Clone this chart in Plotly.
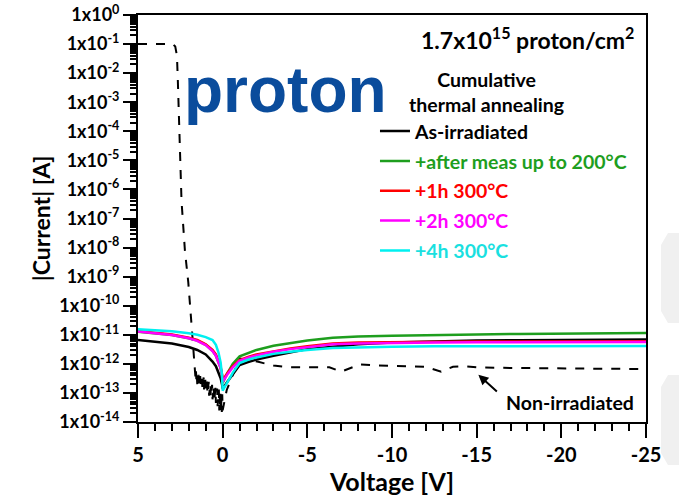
import plotly.graph_objects as go

# Bias sweep shared by the irradiated samples (V)
voltage = [5, 4, 3, 2, 1.5, 1, 0.6, 0.4, 0.25, 0.12, 0.04, 0,
           -0.3, -0.6, -1, -1.5, -2, -3, -4, -5, -6.5, -8, -10,
           -12.5, -15, -17.5, -20, -22.5, -25]

# |I| (A) after each cumulative annealing step
i_as_irradiated = [6.6e-12, 5.9e-12, 5.0e-12, 3.8e-12, 3.0e-12, 2.1e-12, 1.2e-12, 8.3e-13, 5.2e-13, 3.2e-13, 2.0e-13, 1.4e-13,
                   2.5e-13, 4.4e-13, 9.1e-13, 1.15e-12, 1.4e-12, 1.9e-12, 2.5e-12, 3.2e-12, 3.9e-12, 4.7e-12, 5.4e-12,
                   5.9e-12, 6.3e-12, 6.5e-12, 6.6e-12, 6.8e-12, 6.9e-12]
i_after_200c = [1.26e-11, 1.12e-11, 9.8e-12, 7.6e-12, 6.3e-12, 4.5e-12, 2.8e-12, 1.9e-12, 1.2e-12, 7.1e-13, 4.0e-13, 2.2e-13,
                5.0e-13, 1.0e-12, 1.8e-12, 2.4e-12, 3.0e-12, 4.2e-12, 5.2e-12, 6.3e-12, 7.9e-12, 8.7e-12, 9.3e-12,
                1.0e-11, 1.02e-11, 1.07e-11, 1.10e-11, 1.12e-11, 1.15e-11]
i_1h_300c = [1.35e-11, 1.2e-11, 1.02e-11, 7.9e-12, 6.6e-12, 4.7e-12, 3.0e-12, 2.1e-12, 1.3e-12, 7.9e-13, 4.5e-13, 2.75e-13,
             5.0e-13, 8.3e-13, 1.35e-12, 1.74e-12, 2.1e-12, 2.75e-12, 3.4e-12, 4.0e-12, 5.0e-12, 5.4e-12, 5.6e-12,
             5.75e-12, 5.9e-12, 5.9e-12, 6.0e-12, 6.0e-12, 6.0e-12]
i_2h_300c = [1.29e-11, 1.15e-11, 9.8e-12, 7.6e-12, 6.2e-12, 4.4e-12, 2.75e-12, 1.9e-12, 1.2e-12, 7.1e-13, 4.0e-13, 2.4e-13,
             4.5e-13, 7.6e-13, 1.26e-12, 1.62e-12, 1.95e-12, 2.6e-12, 3.2e-12, 3.7e-12, 4.7e-12, 5.0e-12, 5.25e-12,
             5.4e-12, 5.5e-12, 5.5e-12, 5.6e-12, 5.6e-12, 5.6e-12]
i_4h_300c = [1.55e-11, 1.45e-11, 1.32e-11, 1.12e-11, 1.0e-11, 8.3e-12, 6.6e-12, 4.5e-12, 2.5e-12, 1.12e-12, 4.0e-13, 1.2e-13,
             2.5e-13, 5.0e-13, 1.07e-12, 1.38e-12, 1.66e-12, 2.2e-12, 2.6e-12, 3.0e-12, 3.5e-12, 3.7e-12, 3.9e-12,
             4.0e-12, 4.0e-12, 4.1e-12, 4.1e-12, 4.1e-12, 4.1e-12]

# Reference (non-irradiated) diode sweep: breakdown plateau, collapse, noise floor near 0 V, reverse leakage
voltage_ref = [5, 4, 3.2, 2.93, 2.8, 2.7, 2.65, 2.62, 2.55, 2.43, 2.23, 2.03, 1.82, 1.72, 1.65,
               1.625, 1.6, 1.575, 1.55, 1.525, 1.5, 1.475, 1.45, 1.425, 1.4, 1.375, 1.35, 1.325, 1.3,
               1.275, 1.25, 1.225, 1.2, 1.175, 1.15, 1.125, 1.1, 1.075, 1.05, 1.025, 1.0, 0.975, 0.95,
               0.925, 0.9, 0.875, 0.85, 0.825, 0.8, 0.775, 0.75, 0.725, 0.7, 0.675, 0.65, 0.625, 0.6,
               0.575, 0.55, 0.525, 0.5, 0.475, 0.45, 0.425, 0.4, 0.375, 0.35, 0.325, 0.3, 0.275, 0.25,
               0.225, 0.2, 0.175, 0.15, 0.125, 0.1, 0.075, 0.05, 0.025, 0.0,
               -0.1, -0.24, -1.0, -1.5, -2.1, -3, -4, -5.2, -6.3, -7.0, -7.6, -8.1, -9, -10, -11, -12,
               -12.9, -13.6, -14.1, -15, -17, -19, -21, -23, -25]
i_ref = [0.1, 0.1, 0.1, 0.1, 0.083, 0.04, 6.3e-3, 1.26e-3, 3.2e-5, 4.0e-7, 7.9e-9, 6.3e-10, 1.6e-11, 3.2e-12, 7.9e-13,
         4.5e-13, 3.0e-13, 5.5e-13, 2.4e-13, 4.0e-13, 2.0e-13, 3.6e-13, 2.6e-13, 4.2e-13, 1.8e-13, 3.1e-13, 2.2e-13,
         3.8e-13, 1.5e-13, 2.9e-13, 1.9e-13, 3.3e-13, 1.6e-13, 2.7e-13, 2.0e-13, 3.4e-13, 1.3e-13, 2.5e-13, 1.7e-13,
         2.8e-13, 1.1e-13, 2.2e-13, 1.5e-13, 2.6e-13, 9.0e-14, 1.9e-13, 1.2e-13, 2.4e-13, 8.0e-14, 1.6e-13, 1.0e-13,
         2.1e-13, 7.0e-14, 1.5e-13, 9.0e-14, 1.9e-13, 6.0e-14, 1.3e-13, 8.0e-14, 1.7e-13, 5.0e-14, 1.2e-13, 7.0e-14,
         1.5e-13, 4.5e-14, 1.1e-13, 6.0e-14, 1.4e-13, 3.5e-14, 1.0e-13, 5.0e-14, 1.3e-13, 2.5e-14, 8.0e-14, 3.0e-14,
         1.0e-13, 2.0e-14, 6.0e-14, 2.2e-14, 9.0e-14, 2.5e-14,
         5.0e-14, 1.26e-13, 1.55e-12, 1.38e-12, 1.17e-12, 8.7e-13, 7.6e-13, 7.6e-13, 7.6e-13, 5.4e-13, 7.6e-13,
         9.5e-13, 8.9e-13, 8.7e-13, 8.5e-13, 7.9e-13, 5.4e-13, 7.9e-13, 8.3e-13, 7.6e-13, 7.2e-13, 7.1e-13,
         6.9e-13, 6.8e-13, 6.6e-13]

series_names = ["As-irradiated", "+after meas up to 200°C", "+1h 300°C", "+2h 300°C", "+4h 300°C"]
series_colors = ["#000000", "#1e9e1e", "#ff0000", "#ff00ff", "#00f0f0"]
series_text_colors = ["#000000", "#1e9e1e", "#ff0000", "#ff00ff", "#19e0e0"]
series_values = [i_as_irradiated, i_after_200c, i_1h_300c, i_2h_300c, i_4h_300c]

x_tick_vals = [5, 0, -5, -10, -15, -20, -25]
x_tick_text = ["5", "0", "-5", "-10", "-15", "-20", "-25"]
y_exponents = [0, -1, -2, -3, -4, -5, -6, -7, -8, -9, -10, -11, -12, -13, -14]

FONT = "Lato"

fig = go.Figure()

fig.add_trace(go.Scatter(
    x=voltage_ref, y=i_ref, mode="lines", showlegend=False,
    line=dict(color="black", width=2, dash="dash"),
))

for name, color, tcolor, vals in zip(series_names, series_colors, series_text_colors, series_values):
    fig.add_trace(go.Scatter(
        x=voltage, y=vals, mode="lines",
        name=f'<span style="color:{tcolor}">{name}</span>',
        legendgroup=name,
        line=dict(color=color, width=2.5),
    ))

y_ticktext = [f"1x10<sup>{e}</sup>" for e in y_exponents]
y_tickvals = [10.0 ** e for e in y_exponents]
y_minor = [m * 10.0 ** e for e in range(-14, 0) for m in range(2, 10)]

fig.update_layout(
    width=679, height=501,
    margin=dict(l=138, r=33, t=15, b=79, autoexpand=False),
    paper_bgcolor="white", plot_bgcolor="white",
    font=dict(family=FONT, color="black", size=18, weight="bold"),
    showlegend=True,
    legend=dict(
        x=0.4665, y=0.762, xanchor="left", yanchor="top",
        bgcolor="rgba(0,0,0,0)", borderwidth=0,
        font=dict(family=FONT, size=19.5, weight="bold"),
        traceorder="grouped", tracegroupgap=1.5,
        itemwidth=30,
    ),
    xaxis=dict(
        range=[5, -25], tickmode="array", tickvals=x_tick_vals, ticktext=x_tick_text,
        ticks="outside", ticklen=14, tickwidth=2, tickcolor="black",
        minor=dict(ticks="outside", ticklen=7, tickwidth=2, dtick=1, tick0=0, tickcolor="black"),
        showline=True, linewidth=2, linecolor="black", mirror=True,
        showgrid=False, zeroline=False, automargin=False,
        tickfont=dict(family=FONT, size=20, weight="bold"),
        title=dict(text="Voltage [V]", font=dict(family=FONT, size=25, weight="bold"), standoff=8),
    ),
    yaxis=dict(
        type="log", range=[-14.002, 0.002], tickmode="array", tickvals=y_tickvals, ticktext=y_ticktext,
        ticks="outside", ticklen=13, tickwidth=2, tickcolor="black",
        minor=dict(ticks="outside", ticklen=6, tickwidth=1.5, tickmode="array", tickvals=y_minor, tickcolor="black"),
        showline=True, linewidth=2, linecolor="black", mirror=True,
        showgrid=False, zeroline=False, automargin=False,
        tickfont=dict(family=FONT, size=18, weight="bold"),
        title=dict(text="|Current| [A]", font=dict(family=FONT, size=23, weight="bold"), standoff=2),
    ),
)

fig.add_annotation(
    xref="paper", yref="paper", x=0.766, y=0.943, xanchor="center", yanchor="middle",
    showarrow=False, text="1.7x10<sup>15</sup> proton/cm<sup>2</sup>",
    font=dict(family=FONT, size=23, weight="bold"),
)
fig.add_annotation(
    xref="paper", yref="paper", x=0.29, y=0.8157, xanchor="center", yanchor="middle",
    showarrow=False, text="proton",
    font=dict(family="Liberation Sans", size=64, weight="bold", color="#0a4c9c"),
)
fig.add_annotation(
    xref="paper", yref="paper", x=0.687, y=0.812, xanchor="center", yanchor="middle",
    showarrow=False, text="Cumulative<br>thermal annealing",
    font=dict(family=FONT, size=19.5, weight="bold"),
)
fig.add_annotation(
    xref="paper", yref="paper", x=0.850, y=0.047, xanchor="center", yanchor="middle",
    showarrow=False, text="Non-irradiated", font=dict(family=FONT, size=19.5, weight="bold"),
)
fig.add_annotation(
    x=-15.1, y=-12.38, xref="x", yref="y", text="",
    showarrow=True, arrowhead=2, arrowsize=1, arrowwidth=2, arrowcolor="black",
    ax=20, ay=18,
)

# faint slide-background ornaments on the right margin
for top in (233, 375):
    pts = [(668, top), (700, top), (700, top + 90), (668, top + 90), (661, top + 78), (661, top + 12)]
    path = "M " + " L ".join(f"{(px - 138) / 508:.4f},{(422 - py) / 407:.4f}" for px, py in pts) + " Z"
    fig.add_shape(type="path", path=path, xref="paper", yref="paper",
                  fillcolor="#f0f0f0", line=dict(width=0), layer="below")

fig.write_html("out.html")
